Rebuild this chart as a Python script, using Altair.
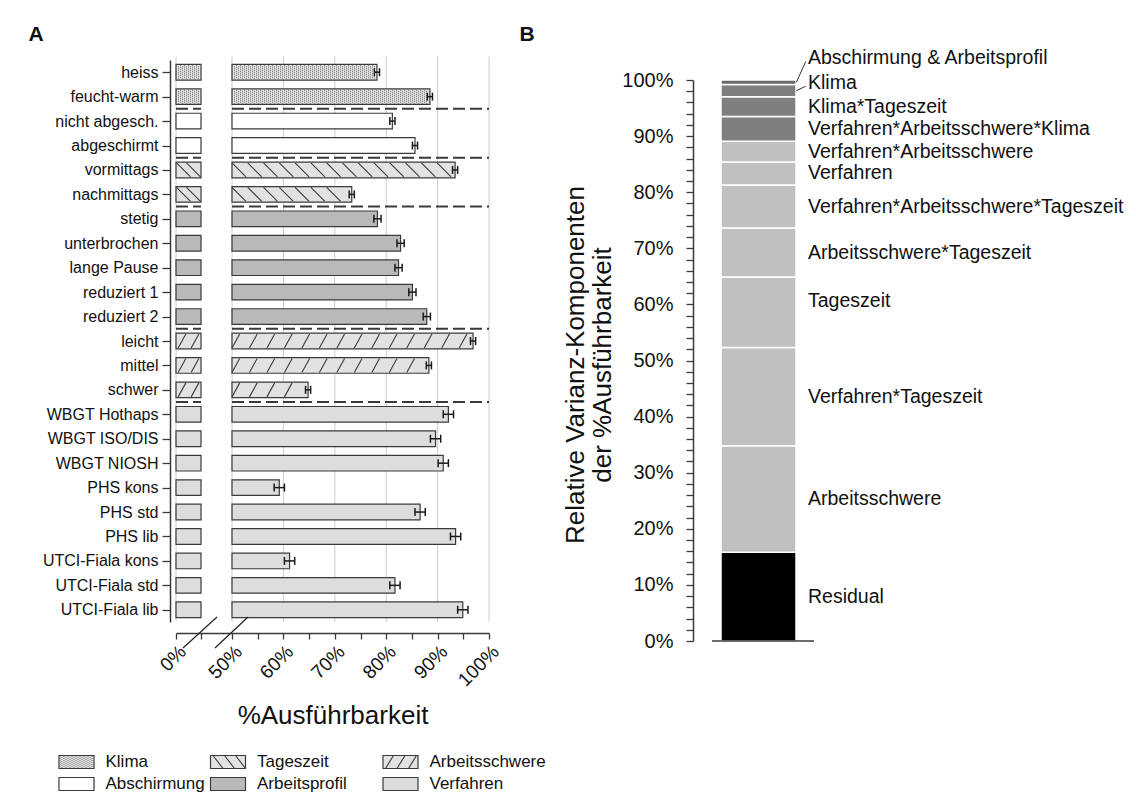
import json
import altair as alt
import pandas as pd

# ---------------- data ----------------
labels = ["heiss", "feucht-warm", "nicht abgesch.", "abgeschirmt", "vormittags", "nachmittags",
          "stetig", "unterbrochen", "lange Pause", "reduziert 1", "reduziert 2",
          "leicht", "mittel", "schwer",
          "WBGT Hothaps", "WBGT ISO/DIS", "WBGT NIOSH", "PHS kons", "PHS std", "PHS lib",
          "UTCI-Fiala kons", "UTCI-Fiala std", "UTCI-Fiala lib"]
groups = (["Klima"] * 2 + ["Abschirmung"] * 2 + ["Tageszeit"] * 2 + ["Arbeitsprofil"] * 5
          + ["Arbeitsschwere"] * 3 + ["Verfahren"] * 9)
values = [78.2, 88.5, 81.2, 85.6, 93.4, 73.3,
          78.3, 82.8, 82.4, 85.1, 87.9,
          96.9, 88.3, 64.8,
          92.1, 89.6, 91.1, 59.2, 86.6, 93.5, 61.2, 81.7, 94.9]
ci = [0.5, 0.5, 0.5, 0.5, 0.5, 0.5,
      0.7, 0.7, 0.7, 0.7, 0.7,
      0.5, 0.5, 0.5,
      1.0, 1.0, 1.0, 1.0, 1.0, 1.0, 1.0, 1.0, 1.0]
x_tick_values = [0, 5, 50, 55, 60, 65, 70, 75, 80, 85, 90, 95, 100]
x_tick_labeled = [0, 50, 60, 70, 80, 90, 100]
grid_values = [0, 50, 60, 70, 80, 90, 100]

comp_names = ["Residual", "Arbeitsschwere", "Verfahren*Tageszeit", "Tageszeit",
              "Arbeitsschwere*Tageszeit", "Verfahren*Arbeitsschwere*Tageszeit", "Verfahren",
              "Verfahren*Arbeitsschwere", "Verfahren*Arbeitsschwere*Klima", "Klima*Tageszeit",
              "Klima", "Abschirmung & Arbeitsprofil"]
comp_values = [15.8, 19.0, 17.5, 12.6, 8.7, 7.7, 4.1, 3.7, 4.4, 3.5, 2.2, 0.8]
comp_tick_values = list(range(0, 101, 2))

legend_names = ["Klima", "Abschirmung", "Tageszeit", "Arbeitsprofil", "Arbeitsschwere", "Verfahren"]

panel_letters = ["A", "B"]
x_title = "%Ausführbarkeit"
y_title_lines = ["Relative Varianz-Komponenten", "der %Ausführbarkeit"]

# ---------------- style / layout ----------------
FONT = "Liberation Sans"
EDGE = "#3a3a3a"
INK = "#111111"
group_fill = {"Klima": "#e4e4e4", "Abschirmung": "#ffffff", "Tageszeit": "#e2e2e2",
              "Arbeitsprofil": "#b9b9b9", "Arbeitsschwere": "#e2e2e2", "Verfahren": "#dddddd"}
comp_fill = {n: "#c0c0c0" for n in comp_names}
comp_fill["Residual"] = "#000000"
for n in ["Verfahren*Arbeitsschwere*Klima", "Klima*Tageszeit", "Klima"]:
    comp_fill[n] = "#7f7f7f"
comp_fill["Abschirmung & Arbeitsprofil"] = "#686868"
label_nudge = {"Abschirmung & Arbeitsprofil": 4.3, "Klima": 1.4, "Tageszeit": 2.0}
leader_names = ["Abschirmung & Arbeitsprofil", "Klima"]

W, H = 1120, 788


def dots_path(w_px, h_px, unit, pitch=2.0, dot=1.0):
    parts = []
    cols = int(round(w_px / pitch))
    for c in range(cols):
        x = -w_px / 2 + c * pitch
        y = -h_px / 2 + (c % 2) * (pitch / 2)
        while y + dot <= h_px / 2 + 1e-9:
            parts.append(f"M{x/unit:.3f},{y/unit:.3f}h{dot/unit:.3f}v{dot/unit:.3f}h{-dot/unit:.3f}z")
            y += pitch
    return "".join(parts)


def lines_path(segs, unit):
    return "".join(f"M{a/unit:.3f},{b/unit:.3f}L{c/unit:.3f},{d/unit:.3f}" for a, b, c, d in segs)


DOT_TILE = dots_path(4, 14, 7)          # size 196 -> 7 px per unit
BACK = "M-1,-1L1,1"                      # "\" hatch, size 196
FWD = "M-0.55,1L0.55,-1"                 # "/" hatch, size 196
CAP = "M0,-1L0,1"
RECT = "M-1,-0.371H1V0.371H-1Z"          # legend swatch, size 1225 -> 17.5 px per unit
LEG_DOTS = dots_path(34, 12, 17.5)
LEG_BACK = lines_path([(-15, -6.5, -5, 6.5), (-3.5, -6.5, 6.5, 6.5), (7.5, -6.5, 17.5, 6.5)], 17.5)
LEG_FWD = lines_path([(-15, 6.5, -7, -6.5), (-3.5, 6.5, 4.5, -6.5), (8, 6.5, 16, -6.5)], 17.5)

# ---------------- panel A ----------------
df = pd.DataFrame({"label": labels, "group": groups, "value": values, "ci": ci})
df["row"] = list(range(len(df)))
sep_rows = [i + 0.5 for i in range(len(groups) - 1) if groups[i] != groups[i + 1]]
df_sep = pd.DataFrame({"y": sep_rows})
df_grid = pd.DataFrame({"g": grid_values})

xs_l = alt.Scale(domain=[0, 5, 50, 100], range=[168, 193, 224, 481], zero=False, nice=False)
ys_l = alt.Scale(domain=[-0.5, 22.5], range=[52, 614], zero=False, nice=False)
ax_l = alt.Axis(orient="bottom", offset=-163, values=x_tick_values,
                labelExpr=f"indexof({json.dumps(x_tick_labeled)}, datum.value) >= 0 ? datum.value + '%' : ''",
                labelAngle=-45, labelAlign="right", labelBaseline="top", labelFontSize=19,
                labelPadding=3, tickSize=6, tickWidth=1.3, domainWidth=1.5, grid=False, title="",
                labelOverlap=False, labelFlush=False)
ay_l = alt.Axis(orient="left", offset=-162, values=list(range(len(labels))),
                labelExpr=json.dumps(labels, ensure_ascii=False) + "[datum.value]",
                labelFontSize=16, labelPadding=4, tickSize=8, tickWidth=1.3, domainWidth=1.5,
                grid=False, title="", labelOverlap=False)


def XL(f):
    return alt.X(f, type="quantitative", scale=xs_l, axis=ax_l)


def YL(f):
    return alt.Y(f, type="quantitative", scale=ys_l, axis=ay_l)


fill_scale = alt.Scale(domain=list(group_fill.keys()), range=list(group_fill.values()))

grid = (alt.Chart(df_grid).transform_calculate(y0="-0.65", y1="22.5")
        .mark_rule(color="#cccccc", strokeWidth=1)
        .encode(x=XL("g"), y=YL("y0"), y2=alt.Y2("y1")))


def bars(a_expr, b_expr):
    return (alt.Chart(df).transform_calculate(a=a_expr, b=b_expr,
                                              y0="datum.row - 0.32", y1="datum.row + 0.32")
            .mark_rect(stroke=EDGE, strokeWidth=1.2, opacity=1)
            .encode(x=XL("a"), x2=alt.X2("b"), y=YL("y0"), y2=alt.Y2("y1"),
                    color=alt.Color("group:N", scale=fill_scale, legend=None)))


def pattern(group, seq_expr, shape, size, filled):
    base = (alt.Chart(df).transform_filter(alt.datum.group == group)
            .transform_calculate(t=seq_expr).transform_flatten(["t"]))
    if filled:
        m = base.mark_point(shape=shape, size=size, filled=True, color="#6a6a6a",
                            strokeWidth=0, opacity=1)
    else:
        m = base.mark_point(shape=shape, size=size, filled=False, color=EDGE,
                            strokeWidth=1.1, opacity=1)
    return m.encode(x=XL("t:Q"), y=YL("row"))


patterns = [
    pattern("Klima", "sequence(0.4, 4.65, 0.8)", DOT_TILE, 196, True),
    pattern("Klima", "sequence(50.39, datum.value - 0.37, 0.778)", DOT_TILE, 196, True),
    pattern("Tageszeit", "sequence(1.5, 3.6, 2.0)", BACK, 196, False),
    pattern("Tageszeit", "sequence(51.36, datum.value - 1.35, 3.07)", BACK, 196, False),
    pattern("Arbeitsschwere", "sequence(1.2, 3.9, 2.6)", FWD, 196, False),
    pattern("Arbeitsschwere", "sequence(50.75, datum.value - 0.74, 3.4)", FWD, 196, False),
]


def seps(a, b):
    return (alt.Chart(df_sep).transform_calculate(a=str(a), b=str(b))
            .mark_rule(color="#3a3a3a", strokeWidth=2, strokeDash=[12, 5])
            .encode(x=XL("a"), x2=alt.X2("b"), y=YL("y")))


err_base = alt.Chart(df).transform_calculate(lo="datum.value - datum.ci", hi="datum.value + datum.ci")
err_rule = err_base.mark_rule(color="#1a1a1a", strokeWidth=1.5).encode(
    x=XL("lo"), x2=alt.X2("hi"), y=YL("row"))
err_lo = err_base.mark_point(shape=CAP, size=64, filled=False, color="#1a1a1a",
                             strokeWidth=1.5, opacity=1).encode(x=XL("lo:Q"), y=YL("row"))
err_hi = err_base.mark_point(shape=CAP, size=64, filled=False, color="#1a1a1a",
                             strokeWidth=1.5, opacity=1).encode(x=XL("hi:Q"), y=YL("row"))

panel_a = alt.layer(grid, bars("0", "5"), bars("50", "datum.value"), *patterns,
                    seps(0, 5), seps(50, 100), err_rule, err_lo, err_hi)


# axis-break marks (decoration)
def break_mark(x1, y1, x2, y2):
    return (alt.Chart(pd.DataFrame({"k": [0]})).mark_rule(color="#222222", strokeWidth=1.2)
            .encode(x=alt.value(x1), y=alt.value(y1), x2=alt.value(x2), y2=alt.value(y2)))


breaks = [break_mark(175, 640, 209, 609), break_mark(207, 640, 240, 609)]

# ---------------- panel B ----------------
dfc = pd.DataFrame({"name": comp_names, "value": comp_values})
dfc["order"] = list(range(len(dfc)))
dfc["nudge"] = [label_nudge.get(n, 0.0) for n in comp_names]

xs_r = alt.Scale(domain=[0, 1], range=[713, 788], zero=False, nice=False)
ys_r = alt.Scale(domain=[0, 100], range=[633, 72], zero=False, nice=False)
ay_r = alt.Axis(orient="left", offset=-685, values=comp_tick_values,
                labelExpr="datum.value % 10 == 0 ? datum.value + '%' : ''",
                labelFontSize=20, labelPadding=13, tickSize=7, tickWidth=1.3, domainWidth=1.5,
                grid=False, title="", labelOverlap=False)


def XR(f):
    return alt.X(f, type="quantitative", scale=xs_r, axis=None)


def YR(f):
    return alt.Y(f, type="quantitative", scale=ys_r, axis=ay_r)


stack = (alt.Chart(dfc)
         .transform_window(cum="sum(value)", sort=[alt.SortField("order")])
         .transform_calculate(start="datum.cum - datum.value",
                              mid="datum.cum - datum.value / 2",
                              ly="datum.cum - datum.value / 2 + datum.nudge",
                              x0="0", x1="1", lx="1.16"))
comp_bar = stack.mark_rect(stroke="white", strokeWidth=1.5, opacity=1).encode(
    x=XR("x0"), x2=alt.X2("x1"), y=YR("cum"), y2=alt.Y2("start"),
    color=alt.Color("name:N", scale=alt.Scale(domain=comp_names,
                                              range=[comp_fill[n] for n in comp_names]),
                    legend=None))
comp_text = stack.mark_text(align="left", baseline="middle", fontSize=19.5, color=INK).encode(
    x=XR("lx"), y=YR("ly"), text="name:N")
leaders = (stack.transform_filter(alt.FieldOneOfPredicate(field="name", oneOf=leader_names))
           .transform_calculate(xa="1.005", xb="1.13", yb="datum.ly - 0.6")
           .mark_rule(color="#333333", strokeWidth=1)
           .encode(x=XR("xa"), x2=alt.X2("xb"), y=YR("mid"), y2=alt.Y2("yb")))
baseline = (alt.Chart(pd.DataFrame({"y": [0]})).transform_calculate(a="-0.12", b="1.24")
            .mark_rule(color=EDGE, strokeWidth=1.5)
            .encode(x=XR("a"), x2=alt.X2("b"), y=YR("y")))

panel_b = alt.layer(comp_bar, baseline, leaders, comp_text)

# ---------------- legend ----------------
dfl = pd.DataFrame({"name": legend_names})
dfl["col"] = [i // 2 for i in range(len(dfl))]
dfl["row"] = [i % 2 for i in range(len(dfl))]
xs_g = alt.Scale(domain=[0, 1, 2], range=[68.5, 220, 392.5], zero=False, nice=False)
ys_g = alt.Scale(domain=[0, 1], range=[754, 776], zero=False, nice=False)
XG = alt.X("col:Q", scale=xs_g, axis=None)
YG = alt.Y("row:Q", scale=ys_g, axis=None)

leg_sw = alt.Chart(dfl).mark_point(shape=RECT, size=1225, filled=True, stroke=EDGE,
                                   strokeWidth=1.2, opacity=1).encode(
    x=XG, y=YG, color=alt.Color("name:N", scale=fill_scale, legend=None))
leg_dots = alt.Chart(dfl).transform_filter(alt.datum.name == "Klima").mark_point(
    shape=LEG_DOTS, size=1225, filled=True, color="#6a6a6a", strokeWidth=0, opacity=1).encode(x=XG, y=YG)
leg_back = alt.Chart(dfl).transform_filter(alt.datum.name == "Tageszeit").mark_point(
    shape=LEG_BACK, size=1225, filled=False, color=EDGE, strokeWidth=1.1, opacity=1).encode(x=XG, y=YG)
leg_fwd = alt.Chart(dfl).transform_filter(alt.datum.name == "Arbeitsschwere").mark_point(
    shape=LEG_FWD, size=1225, filled=False, color=EDGE, strokeWidth=1.1, opacity=1).encode(x=XG, y=YG)
leg_text = alt.Chart(dfl).mark_text(align="left", baseline="middle", dx=29, fontSize=17,
                                    color=INK).encode(x=XG, y=YG, text="name:N")
legend = alt.layer(leg_sw, leg_dots, leg_back, leg_fwd, leg_text)


# ---------------- free texts ----------------
def free_text(t, x, y, size, bold=False, angle=0):
    kw = dict(fontSize=size, align="center", baseline="middle", color=INK)
    if bold:
        kw["fontWeight"] = "bold"
    if angle:
        kw["angle"] = angle
    return alt.Chart(pd.DataFrame({"t": [t]})).mark_text(**kw).encode(
        x=alt.value(x), y=alt.value(y), text="t:N")


texts = [
    free_text(panel_letters[0], 28, 27, 21, bold=True),
    free_text(panel_letters[1], 519, 27, 21, bold=True),
    free_text(x_title, 325, 708, 26),
    free_text(y_title_lines[0], 568, 357, 26, angle=270),
    free_text(y_title_lines[1], 595, 357, 26, angle=270),
]

chart = (alt.layer(panel_a, panel_b, legend, *breaks, *texts)
         .resolve_scale(x="independent", y="independent", color="independent")
         .properties(width=W, height=H, padding=0, autosize=alt.AutoSizeParams(type="none"))
         .configure(font=FONT)
         .configure_view(strokeWidth=0)
         .configure_axis(labelFont=FONT, titleFont=FONT, labelColor=INK,
                         domainColor=EDGE, tickColor=EDGE))

chart.save("out.html", embed_options={"renderer": "svg", "actions": False})
